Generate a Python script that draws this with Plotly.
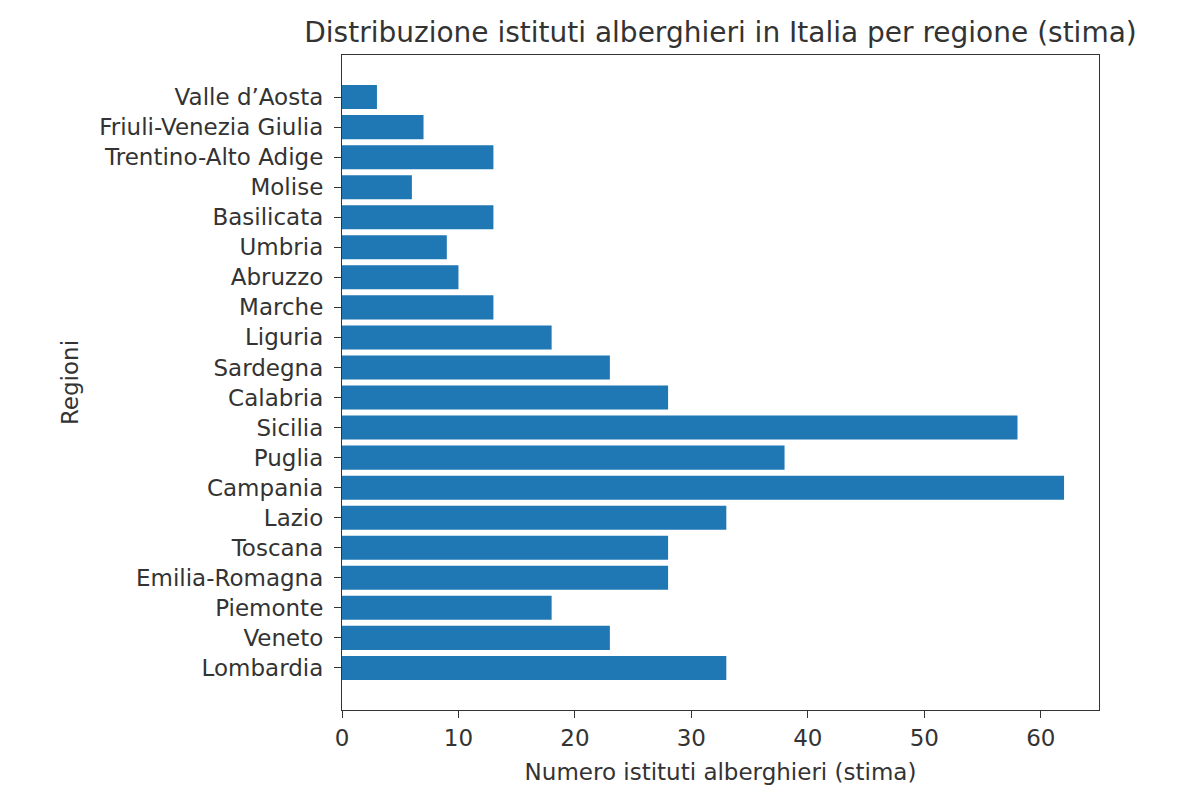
import plotly.graph_objects as go

# -------------- Data --------------

regioni = ['Lombardia', 'Veneto', 'Piemonte', 'Emilia-Romagna', 'Toscana', 'Lazio',
           'Campania', 'Puglia', 'Sicilia', 'Calabria', 'Sardegna', 'Liguria',
           'Marche', 'Abruzzo', 'Umbria', 'Basilicata', 'Molise',
           'Trentino-Alto Adige', 'Friuli-Venezia Giulia', "Valle d\u2019Aosta"]
istituti = [33, 23, 18, 28, 28, 33, 62, 38, 58, 28, 23, 18, 13, 10, 9, 13, 6, 13, 7, 3]

x_ticks = [0, 10, 20, 30, 40, 50, 60]

# -------------- Plot --------------

font = "DejaVu Sans"
txt = '#333333'
ypos = list(range(len(regioni)))

fig = go.Figure(go.Bar(x=istituti, y=ypos, orientation='h', width=0.8,
                       marker=dict(color='#1f77b4', line=dict(width=0))))

# page body has an 8px margin, so the margins are shifted by that
fig.update_layout(
    width=1200, height=800,
    paper_bgcolor='white', plot_bgcolor='white',
    margin=dict(l=334, r=109, t=47, b=98),
    font=dict(family=font, size=23, color=txt),
    showlegend=False,
    title=dict(text='Distribuzione istituti alberghieri in Italia per regione (stima)',
               x=0.5, xref='paper', xanchor='center', y=0.97, yanchor='middle',
               font=dict(family=font, size=28, color=txt)),
)

fig.update_xaxes(range=[0, 65], tickvals=x_ticks, showgrid=False, zeroline=False,
                 showline=True, linecolor='#333', linewidth=1.2, mirror=True,
                 ticks='outside', ticklen=7, tickcolor='#333',
                 title=dict(text='Numero istituti alberghieri (stima)', standoff=14,
                            font=dict(size=23)))

fig.update_yaxes(range=[-1.4, len(regioni) - 1 + 1.4], tickvals=ypos, ticktext=regioni,
                 showgrid=False, zeroline=False,
                 showline=True, linecolor='#333', linewidth=1.2, mirror=True,
                 ticks='outside', ticklen=7, tickcolor='#333', ticklabelstandoff=6,
                 title=dict(text='Regioni', standoff=14, font=dict(size=23)))

fig.write_html("out.html")
